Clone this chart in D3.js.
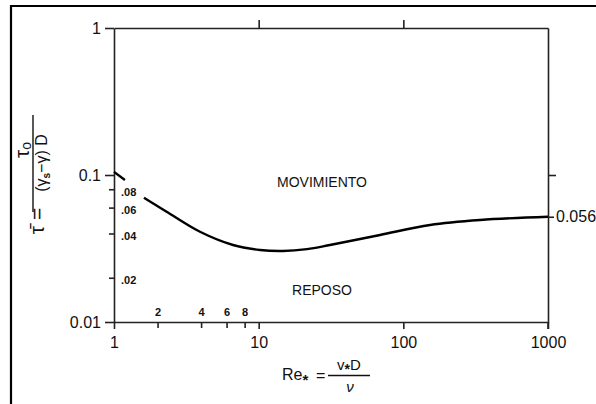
<!DOCTYPE html>
<html>
<head>
<meta charset="utf-8">
<script src="https://cdn.jsdelivr.net/npm/d3@7/dist/d3.min.js"></script>
<style>
  html, body { margin: 0; padding: 0; background: #fff; }
  svg { display: block; }
  text { font-family: "Liberation Sans", Arial, Helvetica, sans-serif; fill: #111; }
  .domain, .tick line { stroke: #222; stroke-width: 1.6px; }
</style>
</head>
<body>
<div id="chart"></div>
<script>
// ---------- data ----------
const xMajorTicks = [1, 10, 100, 1000];
const xMinorTicks = [2, 4, 6, 8];
const yMajorTicks = [1, 0.1, 0.01];
const yMinorTicks = [0.08, 0.06, 0.04, 0.02];
const rightTickLabel = "0.056";

// short leading piece of the curve (laminar end)
const curveStartRe  = [1, 1.19];
const curveStartTau = [0.105, 0.0925];

// main threshold curve
const curveRe  = [1.61, 2.31, 3.93, 6.65, 10.2, 14.7, 21.6, 31.1, 69, 153, 339, 1000];
const curveTau = [0.070, 0.0563, 0.0411, 0.0334, 0.0309, 0.0304, 0.0313, 0.0334, 0.0391, 0.0457, 0.0494, 0.052];

const regionLabels = ["MOVIMIENTO", "REPOSO"];
const regionRe  = [27.4, 27.4];
const regionTau = [0.083, 0.0153];

// ---------- layout ----------
const W = 596, H = 404;
const svg = d3.select("#chart").append("svg").attr("width", W).attr("height", H);

// outer frame (only top and left visible in the picture)
svg.append("path").attr("d", `M11,${H} L11,6 L${W},6`)
  .attr("fill", "none").attr("stroke", "#000").attr("stroke-width", 2.2);

const x = d3.scaleLog().domain([1, 1000]).range([114, 548]);
const y = d3.scaleLog().domain([0.01, 1]).range([322, 28]);

const fmtMinorY = d => d3.format(".2f")(d).replace(/^0/, "");

// left axis (major)
const gL = svg.append("g").attr("transform", `translate(${x(1)},0)`)
  .call(d3.axisLeft(y).tickValues(yMajorTicks).tickSize(9).tickSizeOuter(0).tickPadding(4)
        .tickFormat(d => d3.format("~g")(d)));
gL.selectAll("text").style("font-size", "16px");

// left axis minor ticks, labels inside
const gLm = svg.append("g").attr("transform", `translate(${x(1)},0)`)
  .call(d3.axisRight(y).tickValues(yMinorTicks).tickSize(-5).tickSizeOuter(0).tickPadding(7)
        .tickFormat(fmtMinorY));
gLm.select(".domain").remove();
gLm.selectAll("text").style("font-size", "11px").style("font-weight", "bold").attr("dy", "0.55em");

// bottom axis (major)
const gB = svg.append("g").attr("transform", `translate(0,${y(0.01)})`)
  .call(d3.axisBottom(x).tickValues(xMajorTicks).tickSize(7).tickSizeOuter(0).tickPadding(8)
        .tickFormat(d3.format("d")));
gB.selectAll("text").style("font-size", "16px");

// bottom minor ticks, labels above the axis
const gBm = svg.append("g").attr("transform", `translate(0,${y(0.01)})`)
  .call(d3.axisTop(x).tickValues(xMinorTicks).tickSize(-6).tickSizeOuter(0).tickPadding(6)
        .tickFormat(d3.format("d")));
gBm.select(".domain").remove();
gBm.selectAll("text").style("font-size", "11px").style("font-weight", "bold");

// top axis
svg.append("g").attr("transform", `translate(0,${y(1)})`)
  .call(d3.axisTop(x).tickValues([10, 100]).tickSize(8).tickSizeOuter(0).tickFormat(""));

// right axis
svg.append("g").attr("transform", `translate(${x(1000)},0)`)
  .call(d3.axisRight(y).tickValues([0.1]).tickSize(8).tickSizeOuter(0).tickFormat(""));
const gR2 = svg.append("g").attr("transform", `translate(${x(1000)},0)`)
  .call(d3.axisRight(y).tickValues([curveTau[curveTau.length - 1]]).tickSize(6).tickSizeOuter(0)
        .tickPadding(2).tickFormat(() => rightTickLabel));
gR2.select(".domain").remove();
gR2.selectAll("text").style("font-size", "16px");
// extend right border below like the original
svg.append("line").attr("x1", x(1000)).attr("x2", x(1000)).attr("y1", y(0.01)).attr("y2", y(0.01) + 7)
  .attr("stroke", "#222").attr("stroke-width", 1.6);

// curves
const line = d3.line().x(d => x(d[0])).y(d => y(d[1])).curve(d3.curveCatmullRom.alpha(0.5));
svg.append("path").datum(d3.zip(curveStartRe, curveStartTau)).attr("d", line)
  .attr("fill", "none").attr("stroke", "#000").attr("stroke-width", 2.4);
svg.append("path").datum(d3.zip(curveRe, curveTau)).attr("d", line)
  .attr("fill", "none").attr("stroke", "#000").attr("stroke-width", 2.4);

// region labels
svg.selectAll("text.region").data(regionLabels).enter().append("text")
  .attr("class", "region")
  .attr("x", (d, i) => x(regionRe[i])).attr("y", (d, i) => y(regionTau[i]))
  .attr("text-anchor", "middle").style("font-size", "14px")
  .text(d => d);

// x-axis title: Re* = v*D / ν
const xt = svg.append("g");
xt.append("text").attr("x", 282).attr("y", 380).style("font-size", "16px")
  .html('Re<tspan dy="5" style="font-size:15px;font-weight:bold">*</tspan>');
xt.append("text").attr("x", 316).attr("y", 381).style("font-size", "16px").text("=");
xt.append("line").attr("x1", 328).attr("x2", 370).attr("y1", 375.5).attr("y2", 375.5)
  .attr("stroke", "#111").attr("stroke-width", 1.3);
xt.append("text").attr("x", 349).attr("y", 370).attr("text-anchor", "middle").style("font-size", "15px")
  .html('v<tspan dy="4" style="font-size:14px;font-weight:bold">*</tspan><tspan dy="-4">D</tspan>');
xt.append("text").attr("x", 350).attr("y", 392).attr("text-anchor", "middle")
  .style("font-size", "15px").style("font-style", "italic").text("ν");

// y-axis title (rotated): τ̄ = τo / ((γs − γ) D)
const yt = svg.append("g").attr("transform", "rotate(-90)");
// with rotate(-90): screen X = local y, screen Y = -local x
yt.append("text").attr("x", -221).attr("y", 44).attr("text-anchor", "middle")
  .style("font-size", "21px").text("τ\u0304 =");
yt.append("line").attr("x1", -212).attr("x2", -115).attr("y1", 33).attr("y2", 33)
  .attr("stroke", "#111").attr("stroke-width", 1.4);
yt.append("text").attr("x", -150).attr("y", 29).attr("text-anchor", "middle")
  .style("font-size", "21px").html('τ<tspan dy="2" style="font-size:14px">o</tspan>');
yt.append("text").attr("x", -163).attr("y", 47).attr("text-anchor", "middle")
  .style("font-size", "16px")
  .html('(γ<tspan dy="3" style="font-size:10px;font-weight:bold">s</tspan><tspan dy="-3">−γ) D</tspan>');
</script>
</body>
</html>
